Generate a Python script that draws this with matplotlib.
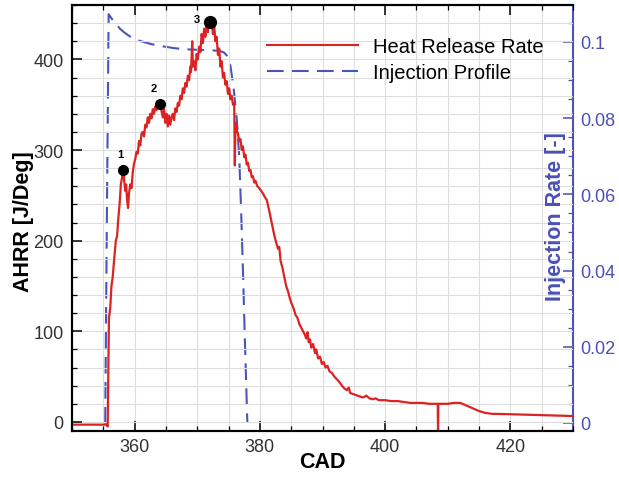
import matplotlib
matplotlib.use("Agg")
import matplotlib.pyplot as plt
from matplotlib.ticker import MultipleLocator, FixedLocator
from matplotlib.lines import Line2D

plt.rcParams['font.family'] = ['Liberation Sans', 'DejaVu Sans']

# ---------------- data ----------------
cad_hrr = [350.0, 355.5, 355.7, 355.8, 355.9, 356.1, 356.3, 356.5, 356.8, 357.0,
           357.2, 357.4, 357.6, 357.8, 358.0, 358.2, 358.35, 358.5, 358.65, 358.8,
           358.95, 359.1, 359.3, 359.5, 359.7, 359.9, 360.1, 360.3, 360.5, 360.7,
           360.9, 361.1, 361.3, 361.5, 361.7, 361.9, 362.1, 362.3, 362.5, 362.7,
           362.9, 363.1, 363.3, 363.5, 363.7, 363.9, 364.1, 364.3, 364.5, 364.7,
           364.9, 365.1, 365.3, 365.5, 365.7, 365.9, 366.1, 366.3, 366.5, 366.7,
           366.9, 367.1, 367.3, 367.5, 367.7, 367.9, 368.1, 368.3, 368.5, 368.7,
           368.9, 369.0, 369.2, 369.3, 369.5, 369.7, 369.9, 370.1, 370.3, 370.5,
           370.7, 370.9, 371.1, 371.3, 371.5, 371.7, 371.9, 372.1, 372.3, 372.5,
           372.7, 372.9, 373.1, 373.3, 373.5, 373.7, 373.9, 374.1, 374.3, 374.5,
           374.7, 374.9, 375.1, 375.3, 375.5, 375.7, 375.9, 376.0, 376.1, 376.3,
           376.5, 376.7, 376.9, 377.1, 377.3, 377.5, 377.7, 377.9, 378.1, 378.3,
           378.5, 378.7, 378.9, 379.1, 379.3, 379.6, 379.9, 380.2, 380.5, 380.8,
           381.1, 381.4, 381.7, 382.0, 382.3, 382.6, 382.9, 383.1, 383.3, 383.6,
           383.9, 384.2, 384.5, 384.8, 385.1, 385.4, 385.7, 386.0, 386.3, 386.6,
           386.9, 387.2, 387.4, 387.6, 387.8, 388.0, 388.2, 388.5, 388.8, 389.0,
           389.3, 389.6, 389.9, 390.2, 390.5, 390.8, 391.1, 391.5, 391.9, 392.3,
           392.7, 393.1, 393.5, 393.9, 394.2, 394.4, 394.8, 395.2, 395.6, 396.0,
           396.5, 397.0, 397.5, 398.0, 398.5, 399.0, 400.0, 401.0, 402.0, 403.0,
           404.0, 405.0, 406.0, 407.0, 408.0, 408.4, 408.45, 408.5, 409.0, 410.0,
           411.0, 412.0, 413.0, 414.0, 415.0, 416.0, 417.0, 420.0, 425.0, 430.0]
ahrr = [-3, -3, -5, 60, 115, 125, 150, 160, 185, 200,
        205, 225, 240, 262, 270, 280, 265, 255, 262, 245,
        236, 252, 262, 258, 275, 285, 290, 298, 296, 310,
        305, 318, 320, 315, 328, 325, 336, 330, 340, 335,
        345, 340, 348, 344, 352, 348, 352, 343, 336, 345,
        330, 340, 326, 338, 328, 336, 340, 333, 346, 342,
        352, 349, 360, 356, 368, 363, 374, 370, 382, 377,
        392, 386, 420, 392, 398, 388, 406, 400, 414, 408,
        428, 418, 434, 425, 440, 430, 445, 436, 446, 428,
        438, 420, 425, 405, 412, 392, 398, 380, 385, 372,
        376, 362, 368, 356, 360, 350, 352, 283, 330, 322,
        318, 310, 312, 300, 304, 292, 295, 284, 286, 277,
        278, 270, 271, 264, 266, 260, 258, 255, 252, 248,
        245, 236, 226, 216, 206, 198, 191, 193, 178, 170,
        160, 150, 144, 136, 130, 125, 118, 115, 108, 104,
        100, 96, 92, 99, 88, 91, 82, 86, 76, 80,
        70, 72, 64, 66, 60, 62, 56, 54, 50, 47,
        44, 40, 37, 35, 38, 32, 31, 30, 29, 28,
        27, 29, 26, 25, 26, 24, 24, 23, 23, 22,
        21, 21, 21, 20, 20, 20, -10, 20, 20, 20,
        21, 21, 18, 15, 12, 10, 9, 8.5, 7.5, 6.5]

cad_inj = [355.2, 355.3, 355.55, 355.85, 356.3, 357.0, 357.7, 358.5, 359.3, 360.0,
           361.0, 362.5, 364.0, 366.2, 368.0, 370.5, 372.5, 373.7, 374.3, 374.8,
           375.3, 375.8, 376.3, 376.7, 377.0, 377.3, 377.6, 378.0]
inj_rate = [0.0, 0.0, 0.05, 0.1073, 0.1062, 0.1048, 0.1034, 0.1023, 0.1014, 0.1008,
            0.1002, 0.0995, 0.0990, 0.0984, 0.0981, 0.0979, 0.0978, 0.0976, 0.0972, 0.0963,
            0.0937, 0.0880, 0.0800, 0.0700, 0.0560, 0.0400, 0.0220, 0.0]

pts_cad = [358.2, 364.1, 372.0]
pts_ahrr = [278, 351, 441]
pts_labels = ['1', '2', '3']
pts_size = [7, 7, 8.5]
lbl_cad = [357.7, 363.1, 370.0]
lbl_ahrr = [296, 368, 445]

# ---------------- style ----------------
RED = '#dd2222'
BLUE = '#4a55bb'
BLUE_AX = '#4a50b5'
TICK_GRAY = '#333333'
DASH = (0, (8, 4))

fig = plt.figure(figsize=(6.19, 4.85), dpi=100)
ax = fig.add_axes([72/619, 1-432/485, (573-72)/619, (432-6)/485])
ax2 = ax.twinx()

ax.set_zorder(ax2.get_zorder() + 1)
ax.patch.set_visible(False)

ax2.plot(cad_inj, inj_rate, color=BLUE, lw=1.5, linestyle=DASH)
ax.plot(cad_hrr, ahrr, color=RED, lw=1.6)

for c, a, s in zip(pts_cad, pts_ahrr, pts_size):
    ax.plot([c], [a], 'o', color='black', markersize=s, zorder=5)
for c, a, t in zip(lbl_cad, lbl_ahrr, pts_labels):
    ax.text(c, a, t, fontsize=8, fontweight='bold', ha='center', va='center', zorder=6)

ax.set_xlim(350, 430)
ax.set_ylim(-10, 460)
ax2.set_ylim(-0.0021, 0.1097)

ax.xaxis.set_major_locator(MultipleLocator(20))
ax.xaxis.set_minor_locator(MultipleLocator(5))
ax.yaxis.set_major_locator(MultipleLocator(100))
ax.yaxis.set_minor_locator(MultipleLocator(20))
ax2.yaxis.set_major_locator(FixedLocator([0, 0.02, 0.04, 0.06, 0.08, 0.1]))
ax2.yaxis.set_minor_locator(MultipleLocator(0.005))
ax2.set_yticklabels(['0', '0.02', '0.04', '0.06', '0.08', '0.1'])

ax.grid(True, which='both', color='#dddddd', lw=0.8)
ax.set_axisbelow(True)

ax.tick_params(axis='both', which='major', direction='in', length=7, width=1.1,
               labelsize=13, labelcolor=TICK_GRAY, top=True, right=False)
ax.tick_params(axis='both', which='minor', direction='in', length=3.5, width=0.9,
               top=True, right=False)
ax.tick_params(axis='x', pad=5)
ax.tick_params(axis='y', pad=6)
ax2.tick_params(axis='y', which='major', direction='in', length=7, width=1.1,
                labelsize=13, colors=BLUE_AX, pad=5)
ax2.tick_params(axis='y', which='minor', direction='in', length=3.5, width=0.9,
                colors=BLUE_AX)

for side in ['left', 'bottom', 'top']:
    ax.spines[side].set_linewidth(1.5)
    ax2.spines[side].set_linewidth(1.5)
ax.spines['right'].set_visible(False)
ax2.spines['right'].set_color(BLUE_AX)
ax2.spines['right'].set_linewidth(1.5)

fig.text(23/619, 1-222/485, 'AHRR [J/Deg]', rotation=90, fontsize=15.5,
         fontweight='bold', ha='center', va='center')
fig.text(555/619, 1-217/485, 'Injection Rate [-]', rotation=90, fontsize=15.5,
         fontweight='bold', ha='center', va='center', color=BLUE_AX)
fig.text(322/619, 1-463/485, 'CAD', fontsize=15.5, fontweight='bold',
         ha='center', va='center')

handles = [Line2D([], [], color=RED, lw=1.5),
           Line2D([], [], color=BLUE, lw=1.5, linestyle=DASH)]
leg = ax.legend(handles, ['Heat Release Rate', 'Injection Profile'],
                loc='upper left', bbox_to_anchor=((267-72)/501, 1-(38-6)/426),
                frameon=False, fontsize=14.5, handlelength=4.5, handletextpad=0.75,
                labelspacing=0.33, borderaxespad=0, borderpad=0)

fig.savefig('out.png', dpi=100)
